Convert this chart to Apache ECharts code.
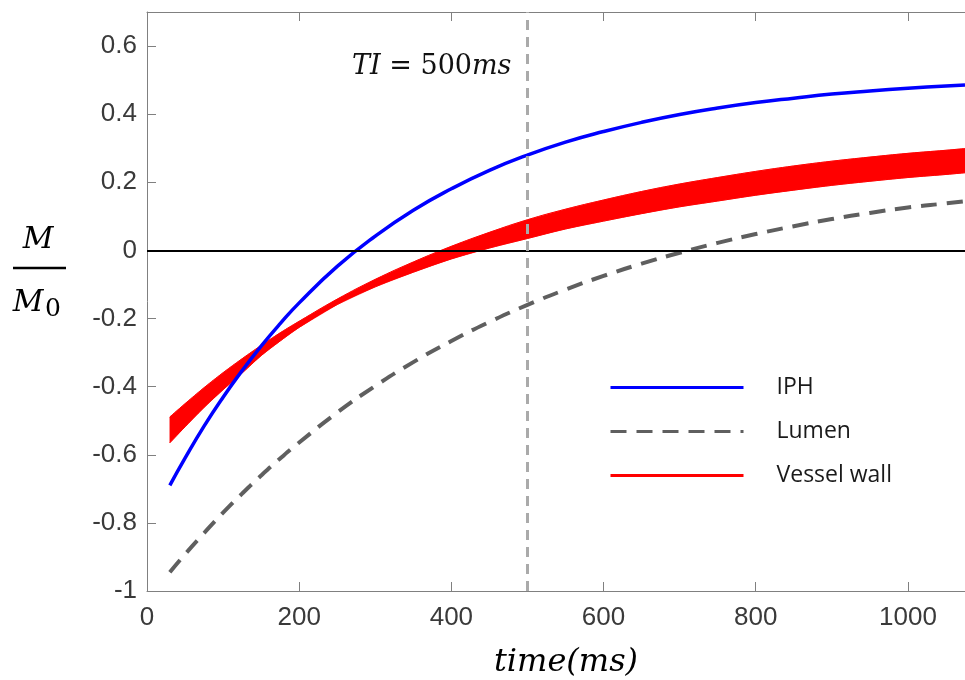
<!DOCTYPE html>
<html><head><meta charset="utf-8">
<script src="https://cdn.jsdelivr.net/npm/echarts@6/dist/echarts.min.js"></script>
<style>html,body{margin:0;padding:0;background:#fff}#c{width:965px;height:680px}</style>
</head><body><div id="c"></div>
<script>
const times = [30,50,75,100,125,150,175,200,250,300,350,400,450,500,550,600,650,700,750,800,850,900,950,1000,1050,1075];
const iph = [-0.690,-0.610,-0.516,-0.431,-0.353,-0.281,-0.215,-0.154,-0.047,0.042,0.118,0.181,0.235,0.280,0.318,0.349,0.376,0.399,0.418,0.434,0.447,0.459,0.468,0.476,0.483,0.486];
const lumen = [-0.945,-0.892,-0.830,-0.770,-0.714,-0.661,-0.611,-0.564,-0.476,-0.398,-0.328,-0.266,-0.210,-0.160,-0.115,-0.075,-0.039,-0.007,0.022,0.048,0.071,0.092,0.110,0.126,0.138,0.144];
const wallUpper = [-0.489,-0.450,-0.403,-0.359,-0.318,-0.279,-0.242,-0.208,-0.143,-0.085,-0.034,0.012,0.053,0.090,0.121,0.148,0.173,0.195,0.214,0.232,0.248,0.262,0.274,0.285,0.294,0.299];
const wallLower = [-0.565,-0.518,-0.461,-0.409,-0.360,-0.309,-0.266,-0.226,-0.159,-0.107,-0.064,-0.025,0.007,0.035,0.063,0.086,0.108,0.128,0.145,0.162,0.177,0.191,0.203,0.214,0.223,0.228];
const seriesNames = ['IPH','Lumen','Vessel wall'];
const inversionTime = 500;

const pair = (ys) => times.map((t,i)=>[t, ys[i]]);

const axisGray = '#808080';
const labelFont = {fontFamily:'Liberation Sans', fontSize:26, color:'#3a3a3a'};
const mathFont = '"DejaVu Serif"';

const chart = echarts.init(document.getElementById('c'), null, {renderer:'canvas'});
chart.setOption({
  animation:false,
  backgroundColor:'#fff',
  grid:{left:147, top:12, right:0, bottom:89, containLabel:false},
  xAxis:[{
    type:'value', min:0, max:1075, interval:200,
    axisLine:{show:true, onZero:false, lineStyle:{color:axisGray, width:1}},
    axisTick:{show:true, inside:true, length:9, lineStyle:{color:axisGray}},
    axisLabel:{...labelFont, margin:14, showMaxLabel:false, formatter:(v)=>String(v)},
    splitLine:{show:false}
  },{
    type:'value', position:'top', min:0, max:1075, interval:200,
    axisLine:{show:true, onZero:false, lineStyle:{color:axisGray, width:1}},
    axisTick:{show:true, inside:true, length:9, lineStyle:{color:axisGray}},
    axisLabel:{show:false}, splitLine:{show:false}
  }],
  yAxis:{
    type:'value', min:-1, max:0.7, interval:0.2,
    axisLine:{show:true, onZero:false, lineStyle:{color:axisGray, width:1}},
    axisTick:{show:true, inside:true, length:9, lineStyle:{color:axisGray}},
    axisLabel:{...labelFont, margin:10, showMaxLabel:false},
    splitLine:{show:false}
  },
  legend:{
    data:seriesNames, orient:'vertical', left:609, top:376, padding:0,
    itemWidth:133, itemHeight:20, itemGap:21,
    lineStyle:{width:3},
    itemStyle:{opacity:0, borderWidth:0},
    textStyle:{fontFamily:'Open Sans', fontSize:23, color:'#1a1a1a', padding:[0,0,0,28], lineHeight:20}
  },
  series:[
    {name:'Lumen', type:'line', data:pair(lumen), smooth:true, symbol:'none',
     lineStyle:{color:'#5f5f5f', width:4, type:[16,10]}, itemStyle:{color:'#5f5f5f'}, z:2},
    {name:'wallBand', type:'custom', coordinateSystem:'cartesian2d', data:[[times[0], wallUpper[0]]],
     silent:true, z:3,
     renderItem:(params, api) => {
       const pts = [];
       times.forEach((t,i)=>pts.push(api.coord([t, wallUpper[i]])));
       for (let i=times.length-1;i>=0;i--) pts.push(api.coord([times[i], wallLower[i]]));
       return {type:'polygon', shape:{points:pts}, style:{fill:'#ff0000', stroke:'#ff0000', lineWidth:0.5}};
     }},
    {name:'Vessel wall', type:'line', data:pair(wallUpper), smooth:true, symbol:'none',
     lineStyle:{color:'#ff0000', width:1}, itemStyle:{color:'#ff0000'}, z:3},
    {name:'wallLowerEdge', type:'line', data:pair(wallLower), smooth:true, symbol:'none',
     lineStyle:{color:'#ff0000', width:1}, itemStyle:{color:'#ff0000'}, z:3},
    {name:'IPH', type:'line', data:pair(iph), smooth:true, symbol:'none',
     lineStyle:{color:'#0000ff', width:3.5}, itemStyle:{color:'#0000ff'}, z:4,
     markLine:{silent:true, symbol:'none', label:{show:false},
       data:[
         {yAxis:0, lineStyle:{color:'#000', type:'solid', width:2}},
         {xAxis:inversionTime, lineStyle:{color:'#aaaaaa', type:[10,7], width:3}}
       ]}}
  ],
  graphic:[
    {type:'text', z:10, x:352, y:67, style:{text:'{i|TI} = 500{i|ms}', fill:'#111',
      font:'27px ' + mathFont, verticalAlign:'middle',
      rich:{i:{fontStyle:'italic', fontFamily:'DejaVu Serif', fontSize:27, fill:'#111'}}}},
    {type:'text', z:10, x:38, y:240, style:{text:'M', fill:'#000', font:'italic 30px ' + mathFont, align:'center', verticalAlign:'middle'}},
    {type:'line', z:10, shape:{x1:13, y1:268, x2:66, y2:268}, style:{stroke:'#000', lineWidth:2.5}},
    {type:'text', z:10, x:28, y:303, style:{text:'M', fill:'#000', font:'italic 30px ' + mathFont, align:'center', verticalAlign:'middle'}},
    {type:'text', z:10, x:53, y:309, style:{text:'0', fill:'#000', font:'25px ' + mathFont, align:'center', verticalAlign:'middle'}},
    {type:'text', z:10, x:566, y:663, style:{text:'time(ms)', fill:'#000', font:'italic 32px ' + mathFont, align:'center', verticalAlign:'middle'}}
  ]
});
</script></body></html>
